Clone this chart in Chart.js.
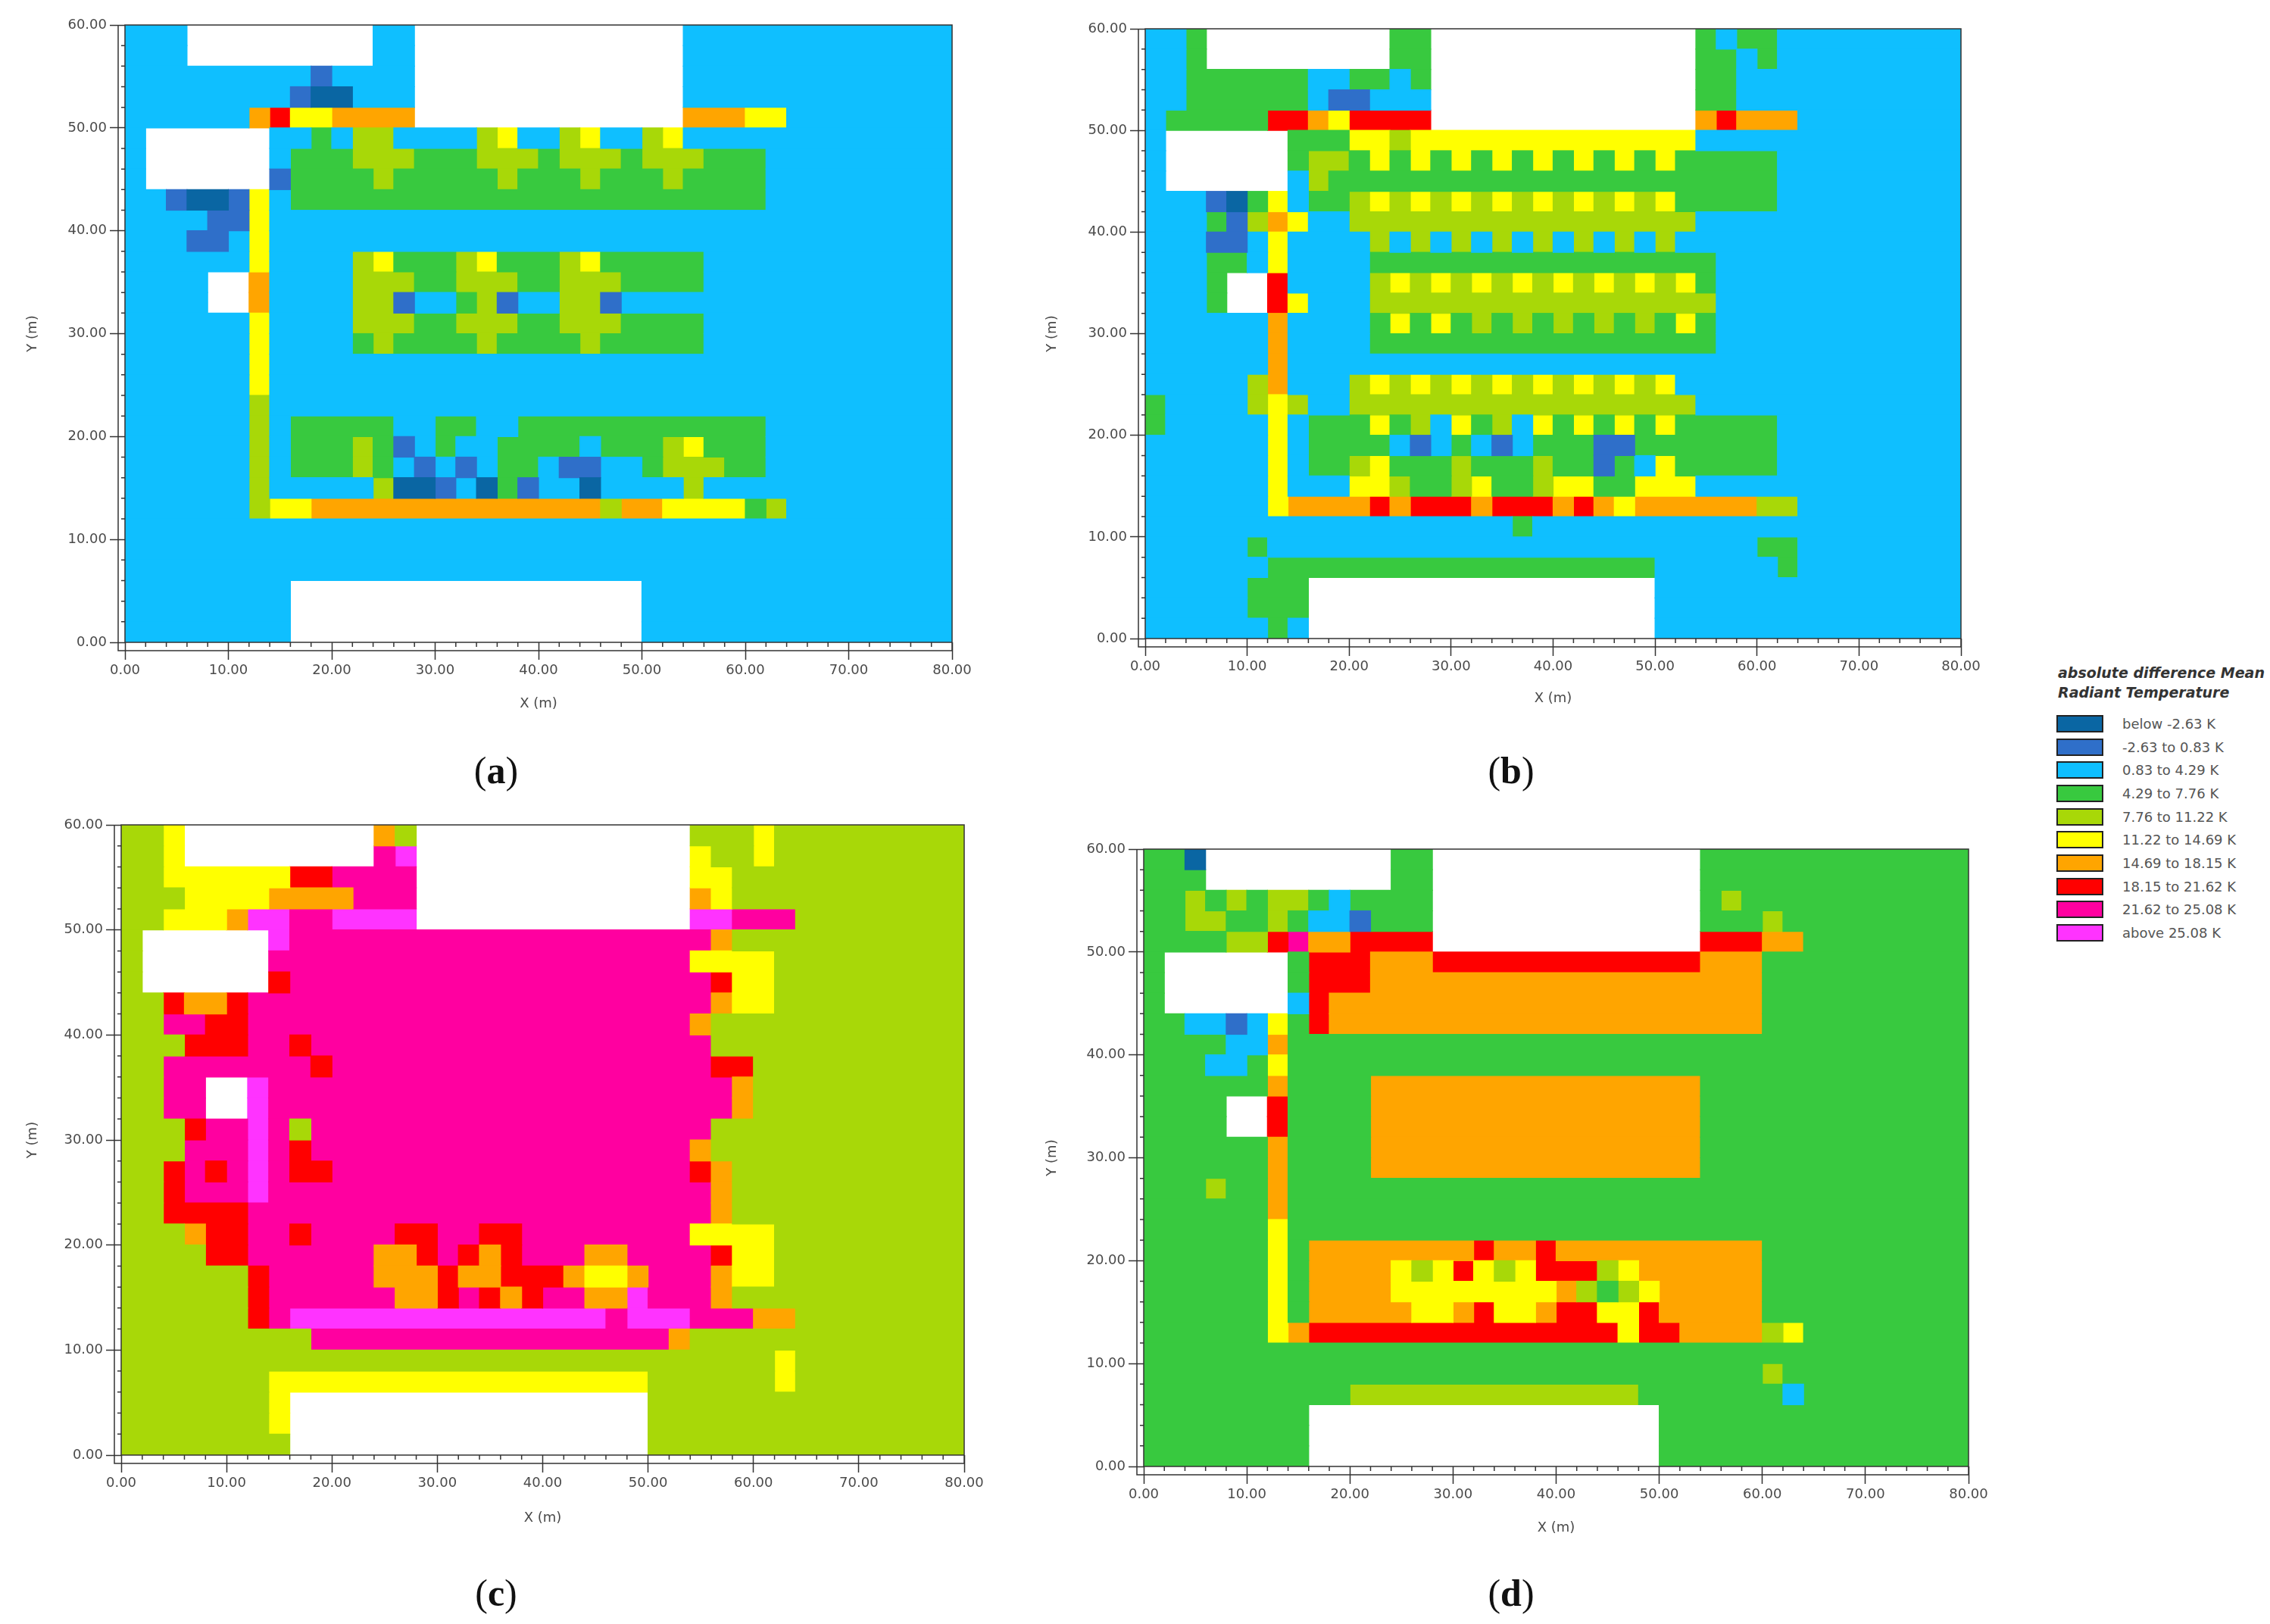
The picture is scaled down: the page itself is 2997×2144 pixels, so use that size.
<!DOCTYPE html>
<html>
<head>
<meta charset="utf-8">
<script src="https://cdn.jsdelivr.net/npm/chart.js@4"></script>
<style>
    html, body { margin: 0; padding: 0; background: #fff; }
    #page { position: relative; width: 2997px; height: 2144px; overflow: hidden; }
    canvas { position: absolute; }
    .caption { position: absolute; width: 100px; text-align: center; font: 50px/58px "Liberation Serif", serif; color: #111; }
    #legend { position: absolute; left: 2715px; top: 875px; font-family: "DejaVu Sans", sans-serif; color: #555; }
    #legend .title { font: italic bold 19px/26px "DejaVu Sans", sans-serif; color: #333; margin: 0 0 17px 2px; white-space: nowrap; }
    #legend .item { height: 30.67px; position: relative; font-size: 18px; white-space: nowrap; }
    #legend .swatch { position: absolute; left: 0; top: 0; width: 58px; height: 19px; border: 2px solid #222; }
    #legend .label { position: absolute; left: 87px; top: 1px; }
</style>
</head>
<body>
<div id="page"></div>
<script>
// colour classes, the digit in a row string is the index in these
const legendLabels = ["below -2.63 K", "-2.63 to 0.83 K", "0.83 to 4.29 K", "4.29 to 7.76 K", "7.76 to 11.22 K",
    "11.22 to 14.69 K", "14.69 to 18.15 K", "18.15 to 21.62 K", "21.62 to 25.08 K", "above 25.08 K"];
const legendColors = ["#0a66a3", "#2f6fc9", "#0fbfff", "#38c93f", "#a8d808",
    "#ffff00", "#ffa500", "#ff0000", "#ff00a0", "#ff33ff"];
const legendTitle = ["absolute difference Mean", "Radiant Temperature"];

// rows run from y=60 down to y=0, a cell is 2 m wide. "." = building (no value)
// a row that stops early carries on with the panel's background class
const rowsA = [
    "222.........22.............",
    "222.........22.............",
    "22222222212222.............",
    "22222222100222.............",
    "22222267556666.............66655",
    "2......22324422224522452245",
    "2......233344433344434443444333",
    "2......133334333334333433343333",
    "2210015233333333333333333333333",
    "2222115",
    "2221125",
    "2222225222245333453334533333",
    "2222..6222244433444334443333",
    "2222..622224412234122441",
    "2222225222244433444334443333",
    "2222225222234333343333433333",
    "2222225",
    "2222225",
    "2222224",
    "2222224233333223322333333333333",
    "2222224233343123223333233345333",
    "2222224233343212123321122344433",
    "2222224222224001203122022224",
    "22222245566666666666666466555534",
    "",
    "",
    "",
    "22222222.................",
    "22222222.................",
    "22222222................."
];
const rowsB = [
    "223.........33.............3233",
    "223.........33.............3323",
    "22333333223323.............33",
    "22333333211222.............33",
    "23333377657777.............67666",
    "2......33355455555555555555",
    "2......344353535353535353533333",
    "2......243333333333333333333333",
    "2221035233454545454545454533333",
    "222314652244444444444444444",
    "22211252222424242424242424",
    "2223325222233333333333333333",
    "2223..7222245454545454545453",
    "2223..7522244444444444444444",
    "2222226222235353434343434353",
    "2222226222233333333333333333",
    "2222226",
    "22222462224545454545454545",
    "322224542244444444444444444",
    "3222225233353425342535353533333",
    "2222225233332123212333113333333",
    "2222225233453334333433132533333",
    "222222522255433453345533555",
    "22222256666767776777676566666644",
    "2222222222222222223",
    "22222322222222222222222222222233",
    "22222233333333333333333332222223",
    "22222333.................",
    "22222333.................",
    "22222232................."
];
const rowsC = [
    "445.........64.............4445",
    "445.........89.............5445",
    "44555555778888.............55",
    "44455556666888.............65",
    "44555699889999.............99888",
    "4......9888888888888888888886",
    "4......888888888888888888885555",
    "4......788888888888888888888755",
    "4476678888888888888888888888655",
    "4488778888888888888888888886",
    "444777887" + "8888888888888888888",
    "4488888887" + "888888888888888888" + "77",
    "4488..988888888888888888888886",
    "4488..988888888888888888888886",
    "444788984" + "8888888888888888888",
    "444888987" + "888888888888888888" + "6",
    "4478789877" + "88888888888888888" + "76",
    "4478889" + "888888888888888888888" + "6",
    "447777" + "8888888888888888888888" + "6",
    "4446778878888778877888888885555",
    "4444778888886678767888668888755",
    "4444447888886667667776556888655",
    "44444478888886678767886698886",
    "44444478999999999999999899988866",
    "444444444888888888888888886",
    "44444444444444444444444444444445",
    "44444445555555555555555554444445",
    "44444445.................",
    "44444445.................",
    "44444444................."
];
const rowsD = [
    "330.........33.............",
    "333.........33.............",
    "33434344323333.............34",
    "33443343221333.............3334",
    "33334478667777.............77766",
    "3......3777666" + "7777777777777" + "666",
    "3......3777" + "6666666666666666666",
    "3......27" + "666666666666666666666",
    "332212537" + "666666666666666666666",
    "3333226",
    "3332235",
    "33333363333" + "6666666666666666",
    "3333..73333" + "6666666666666666",
    "3333..73333" + "6666666666666666",
    "33333363333" + "6666666666666666",
    "33333363333" + "6666666666666666",
    "3334336",
    "3333336",
    "3333335",
    "333333536666666676676666666666",
    "333333536666545754577745666666",
    "333333536666555555556434566666",
    "333333536666655675567755766666",
    "33333356777777777777777577666645",
    "",
    "3333333333333333333333333333334",
    "33333333334444444444444433333332",
    "33333333.................",
    "33333333.................",
    "33333333................."
];

const xMax = 80;
const yMax = 60;
const cellSize = 2;

const FONT = '"DejaVu Sans", sans-serif';
const TICK_COLOR = "#4a4a4a";
const AXIS_COLOR = "#333";

// fixed room round the plot so each plot lands where it is in the figure
const TOP_ROOM = 20;
const RIGHT_ROOM = 50;

const panels = [
    { rows: rowsA, background: "2", left: 165, right: 1257, top: 33, bottom: 848, leftRoom: 136, bottomRoom: 94 },
    { rows: rowsB, background: "2", left: 1512, right: 2589, top: 38, bottom: 843, leftRoom: 137, bottomRoom: 92 },
    { rows: rowsC, background: "4", left: 160, right: 1273, top: 1089, bottom: 1921, leftRoom: 131, bottomRoom: 96 },
    { rows: rowsD, background: "3", left: 1510, right: 2599, top: 1121, bottom: 1936, leftRoom: 135, bottomRoom: 94 }
];
const captions = [
    { letter: "a", x: 655, y: 988 },
    { letter: "b", x: 1995, y: 988 },
    { letter: "c", x: 655, y: 2074 },
    { letter: "d", x: 1995, y: 2074 }
];

// one floating horizontal bar for each run of same class cells
function buildDatasets(rows, background) {
    const perClass = legendColors.map(() => []);
    const nCols = xMax / cellSize;
    rows.forEach((row, r) => {
        const cells = row.padEnd(nCols, background);
        const yMid = yMax - (r + 0.5) * cellSize;
        let start = 0;
        for (let c = 1; c <= nCols; c++) {
            if (c < nCols && cells[c] === cells[start]) continue;
            if (cells[start] !== ".") {
                perClass[Number(cells[start])].push({ x: [start * cellSize, c * cellSize], y: yMid });
            }
            start = c;
        }
    });
    return perClass.map((data, i) => ({
        label: legendLabels[i],
        data: data,
        backgroundColor: legendColors[i],
        borderWidth: 0,
        grouped: false,
        barPercentage: 1,
        categoryPercentage: 1,
        inflateAmount: 0.6
    }));
}

// second axis line outside the plot and the small ticks, as in the original software
const axisFrame = {
    id: "axisFrame",
    afterDraw(chart) {
        const { ctx, chartArea: a, scales } = chart;
        const outerX = a.left - 9;
        const outerY = a.bottom + 11;
        ctx.save();
        ctx.strokeStyle = AXIS_COLOR;
        ctx.lineWidth = 1.5;
        ctx.strokeRect(a.left, a.top, a.right - a.left, a.bottom - a.top);
        ctx.beginPath();
        ctx.moveTo(outerX, a.top);
        ctx.lineTo(outerX, outerY);
        ctx.lineTo(a.right, outerY);
        ctx.lineTo(a.right, a.bottom);
        for (let v = 0; v <= xMax; v += cellSize) {
            if (v % 10 === 0) continue;
            const px = scales.x.getPixelForValue(v);
            ctx.moveTo(px, a.bottom);
            ctx.lineTo(px, a.bottom + 6);
        }
        for (let v = 0; v <= yMax; v += cellSize) {
            if (v % 10 === 0) continue;
            const py = scales.y.getPixelForValue(v);
            ctx.moveTo(a.left, py);
            ctx.lineTo(a.left - 5, py);
        }
        ctx.stroke();
        ctx.restore();
    }
};

function axisOptions(max, titleText, tickLength, fitScale) {
    return {
        type: "linear",
        min: 0,
        max: max,
        offset: false,
        border: { display: false },
        grid: {
            offset: false,
            drawOnChartArea: false,
            drawTicks: true,
            tickLength: tickLength,
            tickColor: AXIS_COLOR,
            tickWidth: 1.5
        },
        ticks: {
            stepSize: 10,
            autoSkip: false,
            maxRotation: 0,
            padding: 4,
            color: TICK_COLOR,
            font: { family: FONT, size: 18 },
            callback: (value) => value.toFixed(2)
        },
        title: {
            display: true,
            text: titleText,
            color: TICK_COLOR,
            font: { family: FONT, size: 18 },
            padding: { top: 4, bottom: 2 }
        },
        afterFit: fitScale
    };
}

function createPanel(panel, page) {
    const canvas = document.createElement("canvas");
    canvas.width = panel.leftRoom + panel.right - panel.left + RIGHT_ROOM;
    canvas.height = TOP_ROOM + panel.bottom - panel.top + panel.bottomRoom;
    canvas.style.left = (panel.left - panel.leftRoom) + "px";
    canvas.style.top = (panel.top - TOP_ROOM) + "px";
    page.appendChild(canvas);

    new Chart(canvas, {
        type: "bar",
        data: { datasets: buildDatasets(panel.rows, panel.background) },
        options: {
            indexAxis: "y",
            responsive: false,
            animation: false,
            layout: { padding: { top: TOP_ROOM, right: RIGHT_ROOM, left: 0, bottom: 0 } },
            plugins: { legend: { display: false }, tooltip: { enabled: false } },
            scales: {
                x: axisOptions(xMax, "X (m)", 23, (scale) => { scale.height = panel.bottomRoom; }),
                y: axisOptions(yMax, "Y (m)", 20, (scale) => { scale.width = panel.leftRoom; })
            }
        },
        plugins: [axisFrame]
    });
}

function createLegend(page) {
    const box = document.createElement("div");
    box.id = "legend";
    const title = document.createElement("div");
    title.className = "title";
    title.innerHTML = legendTitle.join("<br>");
    box.appendChild(title);
    legendLabels.forEach((text, i) => {
        const item = document.createElement("div");
        item.className = "item";
        const swatch = document.createElement("div");
        swatch.className = "swatch";
        swatch.style.background = legendColors[i];
        const label = document.createElement("div");
        label.className = "label";
        label.textContent = text;
        item.appendChild(swatch);
        item.appendChild(label);
        box.appendChild(item);
    });
    page.appendChild(box);
}

const page = document.getElementById("page");
panels.forEach((panel) => createPanel(panel, page));
createLegend(page);
captions.forEach((c) => {
    const el = document.createElement("div");
    el.className = "caption";
    el.style.left = (c.x - 50) + "px";
    el.style.top = c.y + "px";
    el.innerHTML = "(<b>" + c.letter + "</b>)";
    page.appendChild(el);
});
</script>
</body>
</html>
